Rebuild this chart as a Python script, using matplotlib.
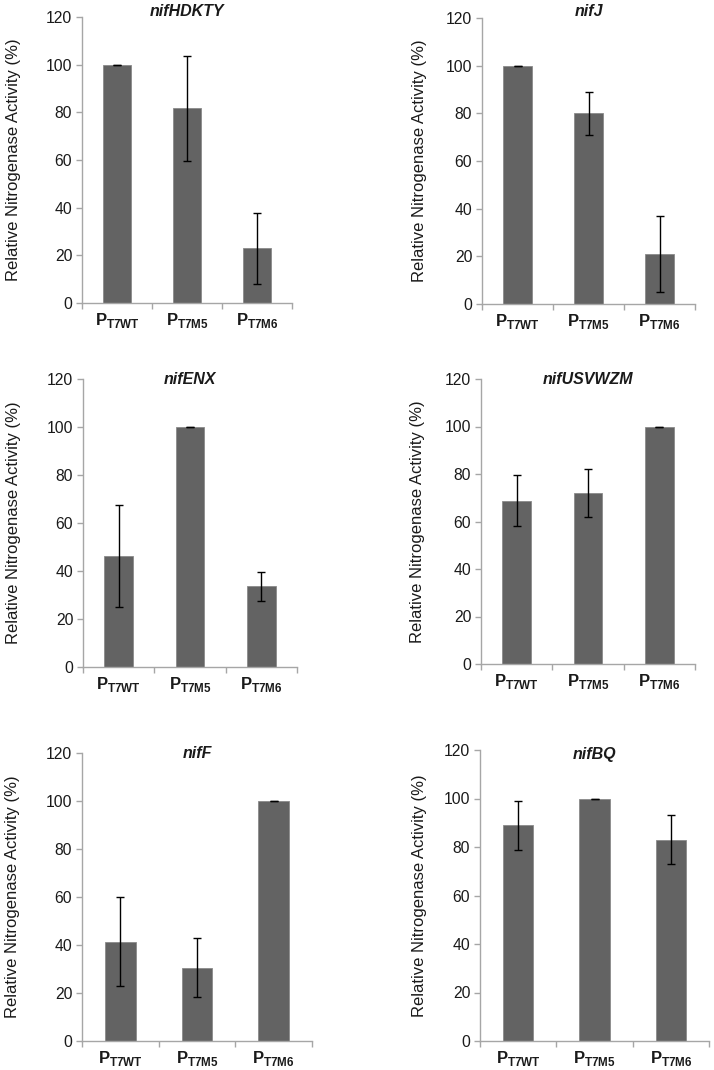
import matplotlib
matplotlib.use("Agg")
import matplotlib.pyplot as plt
import numpy as np

plt.rcParams['font.family'] = ['Liberation Sans', 'DejaVu Sans']
plt.rcParams['mathtext.fontset'] = 'custom'
plt.rcParams['mathtext.rm'] = 'Liberation Sans'
plt.rcParams['mathtext.bf'] = 'Liberation Sans:bold'

# ---- data ----
categories = ['T7WT', 'T7M5', 'T7M6']
titles = ['nifHDKTY', 'nifJ', 'nifENX', 'nifUSVWZM', 'nifF', 'nifBQ']
values_nifHDKTY = [100, 81.7, 22.9]
errors_nifHDKTY = [0, 22.0, 15.0]
values_nifJ = [100, 80.0, 21.0]
errors_nifJ = [0, 9.0, 16.0]
values_nifENX = [46.1, 100, 33.6]
errors_nifENX = [21.2, 0, 5.9]
values_nifUSVWZM = [68.8, 72.0, 100]
errors_nifUSVWZM = [10.9, 10.0, 0]
values_nifF = [41.3, 30.6, 100]
errors_nifF = [18.5, 12.2, 0]
values_nifBQ = [88.9, 100, 83.0]
errors_nifBQ = [10.0, 0, 10.1]
yticks = [0, 20, 40, 60, 80, 100, 120]
ylabel = 'Relative Nitrogenase Activity (%)'

all_values = [values_nifHDKTY, values_nifJ, values_nifENX,
              values_nifUSVWZM, values_nifF, values_nifBQ]
all_errors = [errors_nifHDKTY, errors_nifJ, errors_nifENX,
              errors_nifUSVWZM, errors_nifF, errors_nifBQ]

W, H = 714, 1070
fig = plt.figure(figsize=(W / 100, H / 100), dpi=100)

# panel pixel boxes: x0, x1, y_top, y_bottom ; title y ; ylabel center x
boxes = [
    (82, 292, 17, 303, 12, 14),
    (482, 695, 18, 304, 12, 419),
    (83, 297, 379, 667, 380, 14),
    (481, 695, 379, 664, 380, 417),
    (82, 312, 753, 1041, 754, 13),
    (480, 709, 750, 1041, 755, 419),
]

bar_color = '#636363'
spine_color = '#a6a6a6'
text_color = '#1a1a1a'

for (x0, x1, yt, yb, ty, lx), title, vals, errs in zip(boxes, titles, all_values, all_errors):
    ax = fig.add_axes([x0 / W, 1 - yb / H, (x1 - x0) / W, (yb - yt) / H])
    x = np.arange(len(categories))
    ax.bar(x, vals, width=0.4, color=bar_color, edgecolor='#8a8a8a', linewidth=0.6, zorder=2)
    ax.errorbar(x, vals, yerr=errs, fmt='none', ecolor='black', elinewidth=1.0,
                capsize=2.6, capthick=1.0, zorder=3)
    ax.set_xlim(-0.5, len(categories) - 0.5)
    ax.set_ylim(0, 120)
    ax.set_yticks(yticks)
    ax.set_yticklabels([str(t) for t in yticks], fontsize=11.3, color=text_color)
    ax.set_xticks(x)
    ax.set_xticklabels([r'$\mathbf{P}_{\mathbf{%s}}$' % c for c in categories],
                       fontsize=12, color=text_color)
    ax.set_xticks(np.arange(len(categories) + 1) - 0.5, minor=True)
    ax.tick_params(axis='x', which='major', length=0, pad=6)
    ax.tick_params(axis='x', which='minor', length=4, color=spine_color, width=1)
    ax.tick_params(axis='y', length=4, color=spine_color, width=1, pad=3)
    for s in ['top', 'right']:
        ax.spines[s].set_visible(False)
    for s in ['left', 'bottom']:
        ax.spines[s].set_color(spine_color)
        ax.spines[s].set_linewidth(1.0)
    ax.set_ylabel(ylabel, fontsize=12, color=text_color)
    ax.yaxis.label.set_verticalalignment('center')
    ax.yaxis.set_label_coords((lx - x0) / (x1 - x0), 0.5)
    fig.text((x0 + x1) / 2 / W, 1 - ty / H, title, fontsize=11.5, fontweight='bold',
             fontstyle='italic', ha='center', va='center', color=text_color)

fig.savefig('out.png', dpi=100)
